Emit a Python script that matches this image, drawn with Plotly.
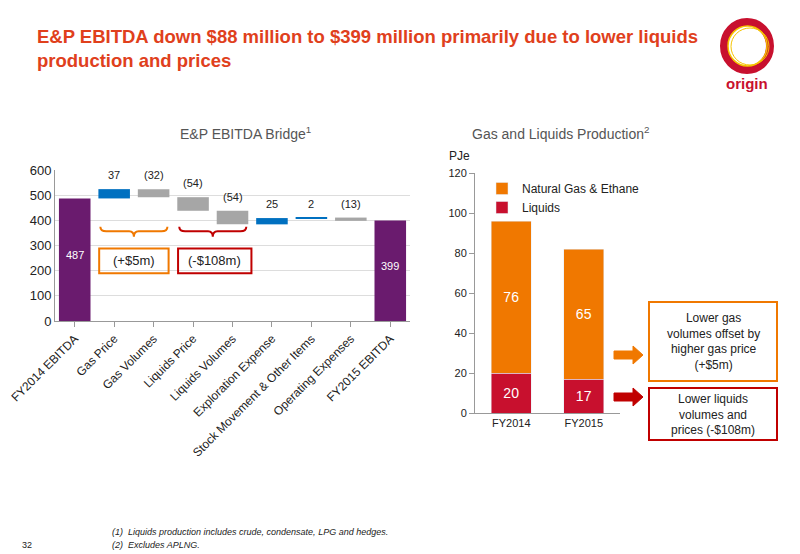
import plotly.graph_objects as go

W, H = 800, 554
OFF = 8  # page body margin in the viewer
def px(x): return (x - OFF) / W
def py(y): return 1 - (y - OFF) / H

bridge_cats = ["FY2014 EBITDA", "Gas Price", "Gas Volumes", "Liquids Price", "Liquids Volumes",
               "Exploration Expense", "Stock Movement & Other Items", "Operating Expenses", "FY2015 EBITDA"]
bridge_vals = [487, 37, -32, -54, -54, 25, 2, -13, 399]
bridge_measure = ["absolute", "relative", "relative", "relative", "relative", "relative", "relative", "relative", "absolute"]
bridge_labels = ["487", "37", "(32)", "(54)", "(54)", "25", "2", "(13)", "399"]

years = ["FY2014", "FY2015"]
liquids = [20, 17]
gas = [76, 65]

fig = go.Figure()
fig.add_trace(go.Waterfall(
    x=bridge_cats, y=bridge_vals, measure=bridge_measure,
    increasing=dict(marker=dict(color="#0070C0")),
    decreasing=dict(marker=dict(color="#A6A6A6")),
    totals=dict(marker=dict(color="#6A1B6E")),
    connector=dict(visible=False), showlegend=False, xaxis="x", yaxis="y",
    hoverinfo="skip", width=0.8))

fig.add_trace(go.Bar(x=years, y=liquids, name="Liquids", marker_color="#C8102E",
                     text=[str(v) for v in liquids], textposition="inside",
                     insidetextanchor="middle", textfont=dict(color="white", size=14),
                     xaxis="x2", yaxis="y2", width=0.55))
fig.add_trace(go.Bar(x=years, y=gas, name="Natural Gas & Ethane", marker_color="#F07800",
                     text=[str(v) for v in gas], textposition="inside",
                     insidetextanchor="middle", textfont=dict(color="white", size=14),
                     xaxis="x2", yaxis="y2", width=0.55))

ann = []
running = 0
for i, (v, m, lab) in enumerate(zip(bridge_vals, bridge_measure, bridge_labels)):
    if m == "absolute":
        running = v
        ann.append(dict(x=i, y=v / 2 + 20, xref="x", yref="y", text=lab, showarrow=False,
                        font=dict(color="white", size=11)))
    else:
        top = max(running, running + v)
        running += v
        ann.append(dict(x=i, y=top, xref="x", yref="y", text=lab, showarrow=False,
                        yshift=14, font=dict(size=11, color="#222")))

shapes = []
def brace(x0, x1, y, color):
    xm = (x0 + x1) / 2
    d = (f"M {x0},{y} Q {x0},{y-18} {x0+0.15},{y-18} L {xm-0.12},{y-18} Q {xm},{y-18} {xm},{y-40} "
         f"Q {xm},{y-18} {xm+0.12},{y-18} L {x1-0.15},{y-18} Q {x1},{y-18} {x1},{y}")
    shapes.append(dict(type="path", path=d, xref="x", yref="y", line=dict(color=color, width=2)))
brace(0.65, 2.35, 375, "#F07800")
brace(2.65, 4.35, 375, "#C00000")
shapes.append(dict(type="rect", xref="x", yref="y", x0=0.62, x1=2.38, y0=190, y1=288,
                   line=dict(color="#F07800", width=2)))
shapes.append(dict(type="rect", xref="x", yref="y", x0=2.62, x1=4.48, y0=190, y1=288,
                   line=dict(color="#C00000", width=2)))
ann.append(dict(x=1.5, y=239, xref="x", yref="y", text="(+$5m)", showarrow=False, font=dict(size=13, color="#222")))
ann.append(dict(x=3.55, y=239, xref="x", yref="y", text="(-$108m)", showarrow=False, font=dict(size=13, color="#222")))

def pann(x, y, text, size, color="#222", xanchor="center", **kw):
    return dict(x=px(x), y=py(y), xref="paper", yref="paper", xanchor=xanchor, yanchor="middle",
                showarrow=False, text=text, font=dict(size=size, color=color), **kw)

shapes.append(dict(type="rect", xref="paper", yref="paper", x0=px(649), x1=px(777), y0=py(381), y1=py(302),
                   line=dict(color="#F07800", width=2)))
ann.append(pann(713, 341, "Lower gas<br>volumes offset by<br>higher gas price<br>(+$5m)", 12))
shapes.append(dict(type="rect", xref="paper", yref="paper", x0=px(649), x1=px(777), y0=py(440), y1=py(388),
                   line=dict(color="#C00000", width=2)))
ann.append(pann(713, 414, "Lower liquids<br>volumes and<br>prices (-$108m)", 12))

def block_arrow(xs, ymid, color):
    x0, x1 = xs
    pts = [(x0, ymid - 4), (x1 - 10, ymid - 4), (x1 - 10, ymid - 9), (x1, ymid), (x1 - 10, ymid + 9),
           (x1 - 10, ymid + 4), (x0, ymid + 4)]
    d = "M " + " L ".join(f"{px(a)},{py(b)}" for a, b in pts) + " Z"
    shapes.append(dict(type="path", path=d, xref="paper", yref="paper", fillcolor=color,
                       line=dict(color=color, width=1)))
block_arrow((614, 643), 355, "#F07800")
block_arrow((614, 643), 397, "#C00000")

shapes.append(dict(type="circle", xref="paper", yref="paper", x0=px(724), x1=px(770), y0=py(70), y1=py(22),
                   line=dict(color="#C8102E", width=8)))
shapes.append(dict(type="circle", xref="paper", yref="paper", x0=px(728), x1=px(767), y0=py(66), y1=py(26),
                   line=dict(color="#F5C400", width=1.5)))
shapes.append(dict(type="circle", xref="paper", yref="paper", x0=px(731), x1=px(769), y0=py(65), y1=py(28),
                   line=dict(color="#F5C400", width=1)))
ann.append(pann(747, 84, "<b>origin</b>", 15, "#C8102E"))

ann += [
    pann(35, 48, "<b>E&P EBITDA down $88 million to $399 million primarily due to lower liquids<br>production and prices</b>",
         18.5, "#E0401C", xanchor="left", align="left"),
    pann(245, 133, "E&P EBITDA Bridge<sup>1</sup>", 14, "#555"),
    pann(560, 133, "Gas and Liquids Production<sup>2</sup>", 14, "#555"),
    pann(447, 156, "PJe", 12, xanchor="left"),
    pann(110, 532, "<i>(1)  Liquids production includes crude, condensate, LPG and hedges.</i>", 9, xanchor="left"),
    pann(110, 545, "<i>(2)  Excludes APLNG.</i>", 9, xanchor="left"),
    pann(20, 545, "32", 9, xanchor="left"),
]

fig.update_layout(
    width=W, height=H, margin=dict(l=0, r=0, t=0, b=0, pad=0, autoexpand=False),
    paper_bgcolor="white", plot_bgcolor="white",
    font=dict(family="Liberation Sans, Arial, sans-serif", color="#222"),
    barmode="stack", bargap=0.45,
    xaxis=dict(domain=[px(55), px(410)], tickangle=-45, tickfont=dict(size=12), showline=True,
               linecolor="#999", ticks="outside", tickcolor="#999", automargin=False),
    yaxis=dict(domain=[py(321), py(170)], range=[0, 600], dtick=100, showgrid=True, gridcolor="#ddd",
               showline=True, linecolor="#999", tickfont=dict(size=13), zeroline=False, automargin=False),
    xaxis2=dict(domain=[px(475), px(620)], anchor="y2", showline=True, linecolor="#999",
                tickfont=dict(size=11), automargin=False),
    yaxis2=dict(domain=[py(413), py(173)], anchor="x2", range=[0, 120], dtick=20, showgrid=False,
                showline=True, linecolor="#999", ticks="outside", tickcolor="#999", tickfont=dict(size=11),
                zeroline=False, automargin=False),
    legend=dict(x=px(482), y=py(174), xanchor="left", yanchor="top", traceorder="reversed",
                font=dict(size=12), bgcolor="rgba(0,0,0,0)", itemwidth=30, tracegroupgap=0),
    annotations=ann, shapes=shapes,
)
fig.write_html("out.html")
